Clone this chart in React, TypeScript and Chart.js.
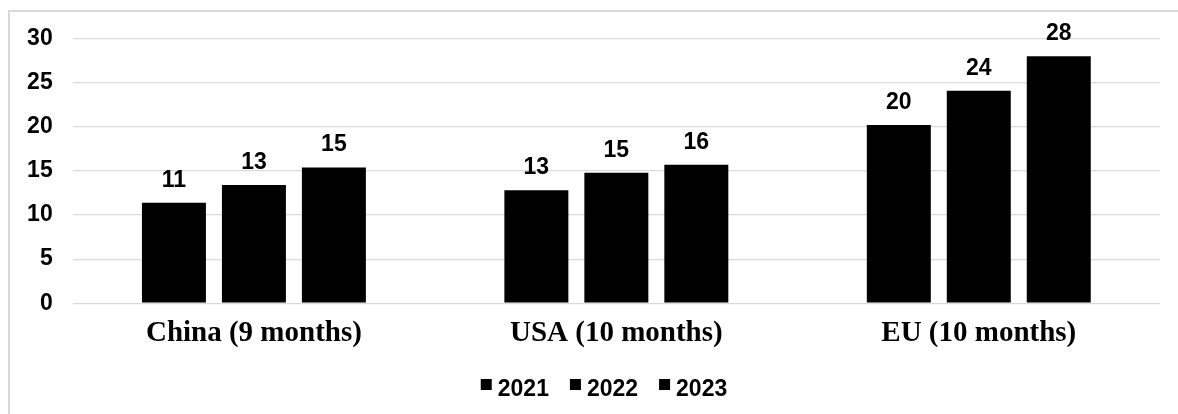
import React, { useEffect, useRef } from "react";
import { Chart, registerables } from "chart.js";

Chart.register(...registerables);

const categories = ["China (9 months)", "USA (10 months)", "EU (10 months)"];
const seriesNames = ["2021", "2022", "2023"];
const values2021 = [11.4, 12.8, 20.2];
const values2022 = [13.4, 14.8, 24.1];
const values2023 = [15.4, 15.7, 28.0];
const yTicks = [0, 5, 10, 15, 20, 25, 30];

const SANS = "'Liberation Sans', Arial, sans-serif";
const SERIF = "'Liberation Serif', 'Times New Roman', serif";

// Draws the rounded value above each bar.
const valueLabels = {
  id: "valueLabels",
  afterDatasetsDraw(chart: any) {
    const ctx = chart.ctx;
    ctx.save();
    ctx.fillStyle = "#000";
    ctx.font = `bold 23px ${SANS}`;
    ctx.textAlign = "center";
    ctx.textBaseline = "alphabetic";
    chart.data.datasets.forEach((ds: any, i: number) => {
      const meta = chart.getDatasetMeta(i);
      meta.data.forEach((bar: any, j: number) => {
        const v = ds.data[j] as number;
        ctx.fillText(String(Math.round(v)), bar.x, bar.y - 16);
      });
    });
    ctx.restore();
  },
};

// Legend row under the category labels: square swatch, then the series name.
const legendRow = {
  id: "legendRow",
  afterDraw(chart: any) {
    const ctx = chart.ctx;
    const box = 11;
    const gap = 6;
    const spacing = 21;
    const centerX = 604;
    const centerY = 390;
    ctx.save();
    ctx.font = `bold 23px ${SANS}`;
    ctx.textBaseline = "middle";
    ctx.textAlign = "left";
    const items = chart.data.datasets.map((ds: any) => ({
      text: ds.label as string,
      color: ds.backgroundColor as string,
      w: ctx.measureText(ds.label).width,
    }));
    const total =
      items.reduce((s: number, it: any) => s + box + gap + it.w, 0) +
      spacing * (items.length - 1);
    let x = centerX - total / 2;
    items.forEach((it: any) => {
      ctx.fillStyle = it.color;
      ctx.fillRect(x, centerY - 11, box, box);
      ctx.fillStyle = "#000";
      ctx.fillText(it.text, x + box + gap, centerY);
      x += box + gap + it.w + spacing;
    });
    ctx.restore();
  },
};

export default function App() {
  const canvasRef = useRef<HTMLCanvasElement | null>(null);

  useEffect(() => {
    if (!canvasRef.current) return;
    const series = [values2021, values2022, values2023];
    const chart = new Chart(canvasRef.current, {
      type: "bar",
      data: {
        labels: categories,
        datasets: seriesNames.map((name, i) => ({
          label: name,
          data: series[i],
          backgroundColor: "#000",
          borderWidth: 0,
          categoryPercentage: 0.662,
          barPercentage: 0.8,
        })),
      },
      options: {
        animation: false,
        responsive: true,
        maintainAspectRatio: false,
        layout: { padding: { left: 12.7, right: 18, top: 38.7, bottom: 50 } },
        plugins: {
          tooltip: { enabled: false },
          legend: { display: false },
        },
        scales: {
          x: {
            grid: { display: false, drawTicks: false },
            border: { display: false },
            ticks: {
              color: "#000",
              padding: 13,
              font: { family: SERIF, size: 29, weight: "bold" },
            },
          },
          y: {
            min: 0,
            max: 30,
            afterFit(scale: any) {
              scale.width = 60;
            },
            afterBuildTicks(scale: any) {
              scale.ticks = yTicks.map((v) => ({ value: v }));
            },
            grid: { color: "#d9d9d9", lineWidth: 1.2, drawTicks: false },
            border: { display: false },
            ticks: {
              color: "#000",
              padding: 20,
              font: { family: SANS, size: 23, weight: "bold" },
            },
          },
        },
      },
      plugins: [valueLabels, legendRow],
    });
    return () => chart.destroy();
  }, []);

  return (
    <div
      style={{
        position: "fixed",
        left: 0,
        top: 0,
        width: 1178,
        height: 414,
        background: "#fff",
      }}
    >
      <div
        style={{
          position: "absolute",
          left: 8,
          top: 10,
          right: 0,
          bottom: -4,
          borderTop: "2px solid #d9d9d9",
          borderLeft: "2px solid #d9d9d9",
        }}
      />
      <canvas
        ref={canvasRef}
        style={{ position: "absolute", left: 0, top: 0, width: 1178, height: 414 }}
      />
    </div>
  );
}
